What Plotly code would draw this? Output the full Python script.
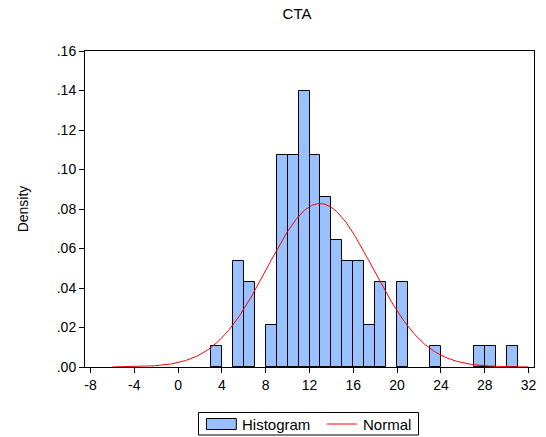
import numpy as np
import plotly.graph_objects as go

# Histogram of CTA: bin edges (width 1) and observation counts per bin
bin_left = [3, 5, 6, 8, 9, 10, 11, 12, 13, 14, 15, 16, 17, 18, 20, 23, 27, 28, 30]
counts = [1, 5, 4, 2, 10, 10, 13, 10, 8, 6, 5, 5, 2, 4, 4, 1, 1, 1, 1]
bin_width = 1.0

# Fitted normal distribution parameters
normal_mean = 12.95
normal_sd = 4.82
curve_range = (-6.0, 32.0)

x_ticks = list(range(-8, 33, 4))
y_ticks = [0.00, 0.02, 0.04, 0.06, 0.08, 0.10, 0.12, 0.14, 0.16]

n_obs = sum(counts)
centers = [b + bin_width / 2 for b in bin_left]
density = [c / (n_obs * bin_width) for c in counts]

xs = np.linspace(curve_range[0], curve_range[1], 400)
pdf = np.exp(-0.5 * ((xs - normal_mean) / normal_sd) ** 2) / (normal_sd * np.sqrt(2 * np.pi))

BAR_COLOR = "rgb(153,192,255)"
FONT = "Liberation Sans, Arial, sans-serif"

fig = go.Figure()
fig.add_trace(go.Bar(
    x=centers, y=density, width=bin_width,
    marker=dict(color=BAR_COLOR, line=dict(color="black", width=1)),
    name="Histogram", showlegend=False,
))
fig.add_trace(go.Scatter(
    x=xs, y=pdf, mode="lines",
    line=dict(color="red", width=1),
    name="Normal", showlegend=False,
))

fig.update_layout(
    width=546, height=437,
    margin=dict(l=85, r=10, t=51, b=70),
    paper_bgcolor="white", plot_bgcolor="white",
    font=dict(family=FONT, size=14, color="black"),
    title=dict(text="CTA", x=297 / 546, xanchor="center", y=1 - 14 / 437, yanchor="middle",
               font=dict(size=15)),
    bargap=0,
)
fig.update_xaxes(
    range=[-8.5, 32.5], tickvals=x_ticks, ticktext=[str(t) for t in x_ticks],
    ticks="outside", ticklen=5, tickcolor="black", showgrid=False, zeroline=False,
    showline=True, linecolor="black", linewidth=1, mirror=True,
)
fig.update_yaxes(
    range=[0, 0.16], tickvals=y_ticks, ticktext=[f"{v:.2f}".lstrip("0") for v in y_ticks],
    ticks="outside", ticklen=5, tickcolor="black", showgrid=False, zeroline=False,
    showline=True, linecolor="black", linewidth=1, mirror=True,
    title=dict(text="Density", standoff=24, font=dict(size=14)),
)

# Legend box drawn below the plot area (paper coordinates)
def px_x(px):
    return (px - 85) / 451

def px_y(py):
    return (367 - py) / 316

shapes = [
    dict(type="rect", xref="paper", yref="paper",
         x0=px_x(199), x1=px_x(420), y0=px_y(435), y1=px_y(412.5),
         line=dict(color="black", width=1), fillcolor="white"),
    dict(type="rect", xref="paper", yref="paper",
         x0=px_x(207), x1=px_x(237), y0=px_y(429.5), y1=px_y(418.5),
         line=dict(color="black", width=1), fillcolor=BAR_COLOR),
    dict(type="line", xref="paper", yref="paper",
         x0=px_x(328), x1=px_x(358), y0=px_y(424), y1=px_y(424),
         line=dict(color="red", width=1)),
]
annotations = [
    dict(text="Histogram", xref="paper", yref="paper", x=px_x(241), y=px_y(424),
         xanchor="left", yanchor="middle", showarrow=False, font=dict(size=15)),
    dict(text="Normal", xref="paper", yref="paper", x=px_x(362), y=px_y(424),
         xanchor="left", yanchor="middle", showarrow=False, font=dict(size=15)),
]
fig.update_layout(shapes=shapes, annotations=annotations)

fig.write_html("out.html")
